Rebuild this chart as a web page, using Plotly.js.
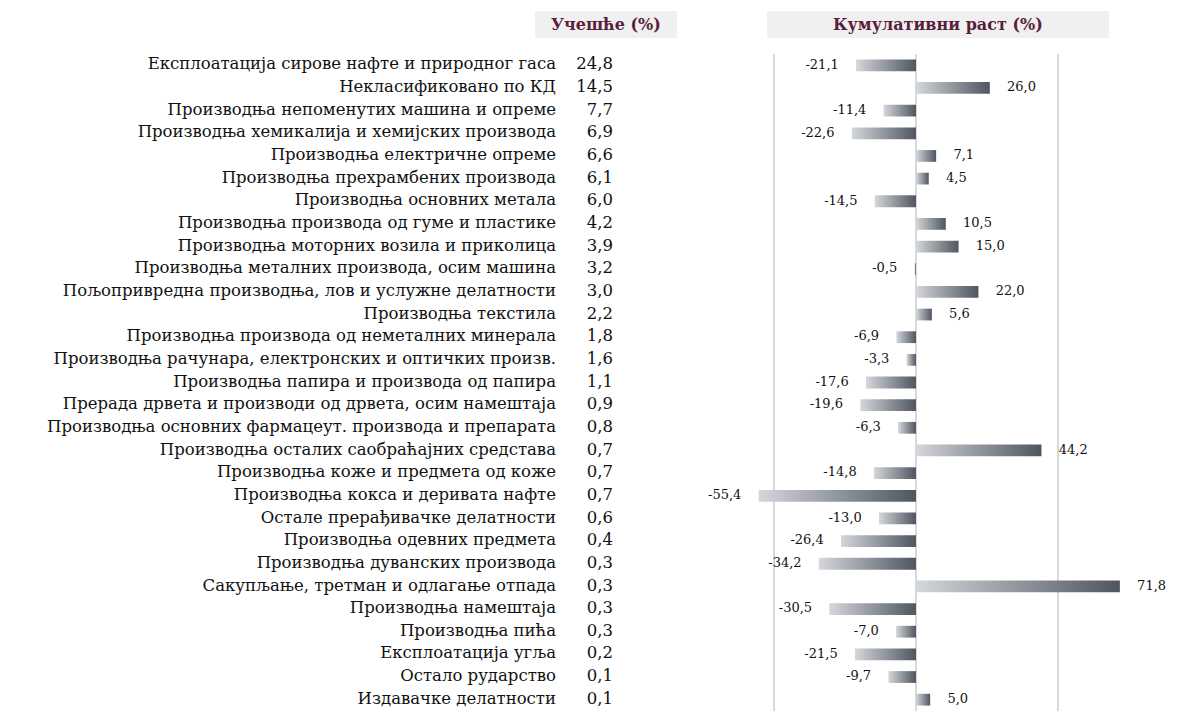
<!DOCTYPE html>
<html>
<head>
<meta charset="utf-8">
<script src="https://cdn.plot.ly/plotly-3.0.1.min.js"></script>
<style>
  html, body { margin: 0; padding: 0; background: #ffffff; }
  #chart { width: 1190px; height: 723px; }
</style>
</head>
<body>
<div id="chart"></div>
<script>
const categories = [
  "Експлоатација сирове нафте и природног гаса",
  "Некласификовано по КД",
  "Производња непоменутих машина и опреме",
  "Производња хемикалија и хемијских производа",
  "Производња електричне опреме",
  "Производња прехрамбених производа",
  "Производња основних метала",
  "Производња производа од гуме и пластике",
  "Производња моторних возила и приколица",
  "Производња металних производа, осим машина",
  "Пољопривредна производња, лов и услужне делатности",
  "Производња текстила",
  "Производња производа од неметалних минерала",
  "Производња рачунара, електронских и оптичких произв.",
  "Производња папира и производа од папира",
  "Прерада дрвета и производи од дрвета, осим намештаја",
  "Производња основних фармацеут. производа и препарата",
  "Производња осталих саобраћајних средстава",
  "Производња коже и предмета од коже",
  "Производња кокса и деривата нафте",
  "Остале прерађивачке делатности",
  "Производња одевних предмета",
  "Производња дуванских производа",
  "Сакупљање, третман и одлагање отпада",
  "Производња намештаја",
  "Производња пића",
  "Експлоатација угља",
  "Остало рударство",
  "Издавачке делатности"
];
const shares = [24.8, 14.5, 7.7, 6.9, 6.6, 6.1, 6.0, 4.2, 3.9, 3.2, 3.0, 2.2, 1.8, 1.6, 1.1, 0.9, 0.8, 0.7, 0.7, 0.7, 0.6, 0.4, 0.3, 0.3, 0.3, 0.3, 0.2, 0.1, 0.1];
const growth = [-21.1, 26.0, -11.4, -22.6, 7.1, 4.5, -14.5, 10.5, 15.0, -0.5, 22.0, 5.6, -6.9, -3.3, -17.6, -19.6, -6.3, 44.2, -14.8, -55.4, -13.0, -26.4, -34.2, 71.8, -30.5, -7.0, -21.5, -9.7, 5.0];
const headerShare = "Учешће (%)";
const headerGrowth = "Кумулативни раст (%)";

const fmt = v => v.toFixed(1).replace('.', ',');
const serif = "DejaVu Serif";
const maroon = "#5a1e3c";
const idx = categories.map((_, i) => i);
const half = 0.26;

const W = 1190, H = 723, MT = 54, MB = 12;
const py = p => (H - MB - p) / (H - MT - MB);   // pixel row -> paper y
const px = p => p / W;                           // pixel col -> paper x

const traces = [];
growth.forEach((v, i) => {
  traces.push({
    type: 'scatter', mode: 'lines', xaxis: 'x', yaxis: 'y',
    x: [0, v, v, 0, 0],
    y: [i - half, i - half, i + half, i + half, i - half],
    fill: 'toself',
    line: { width: 0, color: 'rgba(0,0,0,0)' },
    fillgradient: { type: 'horizontal', colorscale: [[0, '#d4d7db'], [1, '#4f5660']] },
    hoverinfo: 'skip', showlegend: false
  });
});
const negI = idx.filter(i => growth[i] < 0);
const posI = idx.filter(i => growth[i] >= 0);
traces.push({
  type: 'scatter', mode: 'markers+text', xaxis: 'x', yaxis: 'y',
  x: negI.map(i => growth[i]), y: negI,
  text: negI.map(i => fmt(growth[i])),
  textposition: 'middle left',
  marker: { size: 26, opacity: 0 },
  textfont: { family: serif, size: 13, color: '#111' },
  hoverinfo: 'skip', showlegend: false, cliponaxis: false
});
traces.push({
  type: 'scatter', mode: 'markers+text', xaxis: 'x', yaxis: 'y',
  x: posI.map(i => growth[i]), y: posI,
  text: posI.map(i => fmt(growth[i])),
  textposition: 'middle right',
  marker: { size: 26, opacity: 0 },
  textfont: { family: serif, size: 13, color: '#111' },
  hoverinfo: 'skip', showlegend: false, cliponaxis: false
});
traces.push({
  type: 'scatter', mode: 'text', xaxis: 'x2', yaxis: 'y',
  x: idx.map(() => 556), y: idx, text: categories,
  textposition: 'middle left',
  textfont: { family: serif, size: 16.5, color: '#111' },
  hoverinfo: 'skip', showlegend: false, cliponaxis: false
});
traces.push({
  type: 'scatter', mode: 'text', xaxis: 'x2', yaxis: 'y',
  x: idx.map(() => 613), y: idx, text: shares.map(fmt),
  textposition: 'middle left',
  textfont: { family: serif, size: 16.5, color: '#111' },
  hoverinfo: 'skip', showlegend: false, cliponaxis: false
});

const splitFrac = 632 / W;
const layout = {
  width: W, height: H,
  margin: { l: 0, r: 0, t: MT, b: MB },
  paper_bgcolor: '#ffffff', plot_bgcolor: '#ffffff',
  showlegend: false,
  xaxis: {
    domain: [splitFrac, 1], range: [-100, 96.5],
    tickvals: [-100, -50, 0, 50], showticklabels: false,
    showgrid: true, gridcolor: '#d9d9d9', gridwidth: 2,
    zeroline: true, zerolinecolor: '#d9d9d9', zerolinewidth: 2,
    showline: false, ticks: '', fixedrange: true
  },
  xaxis2: {
    domain: [0, splitFrac], range: [0, 632], anchor: 'y',
    showgrid: false, zeroline: false, showticklabels: false, showline: false, ticks: ''
  },
  yaxis: {
    range: [28.5, -0.5], showgrid: false, zeroline: false,
    showticklabels: false, showline: false, ticks: ''
  },
  shapes: [
    { type: 'rect', xref: 'paper', yref: 'paper', x0: px(535), x1: px(677),
      y0: py(38), y1: py(11), fillcolor: '#f0f0f0', line: { width: 0 }, layer: 'below' },
    { type: 'rect', xref: 'paper', yref: 'paper', x0: px(767), x1: px(1109),
      y0: py(38), y1: py(11), fillcolor: '#f0f0f0', line: { width: 0 }, layer: 'below' }
  ],
  annotations: [
    { xref: 'paper', yref: 'paper', x: px(606), y: py(24.5), text: '<b>' + headerShare + '</b>',
      showarrow: false, xanchor: 'center', yanchor: 'middle',
      font: { family: serif, size: 16, color: maroon } },
    { xref: 'paper', yref: 'paper', x: px(938), y: py(24.5), text: '<b>' + headerGrowth + '</b>',
      showarrow: false, xanchor: 'center', yanchor: 'middle',
      font: { family: serif, size: 16, color: maroon } }
  ]
};

Plotly.newPlot('chart', traces, layout, { displayModeBar: false, staticPlot: true });
</script>
</body>
</html>
